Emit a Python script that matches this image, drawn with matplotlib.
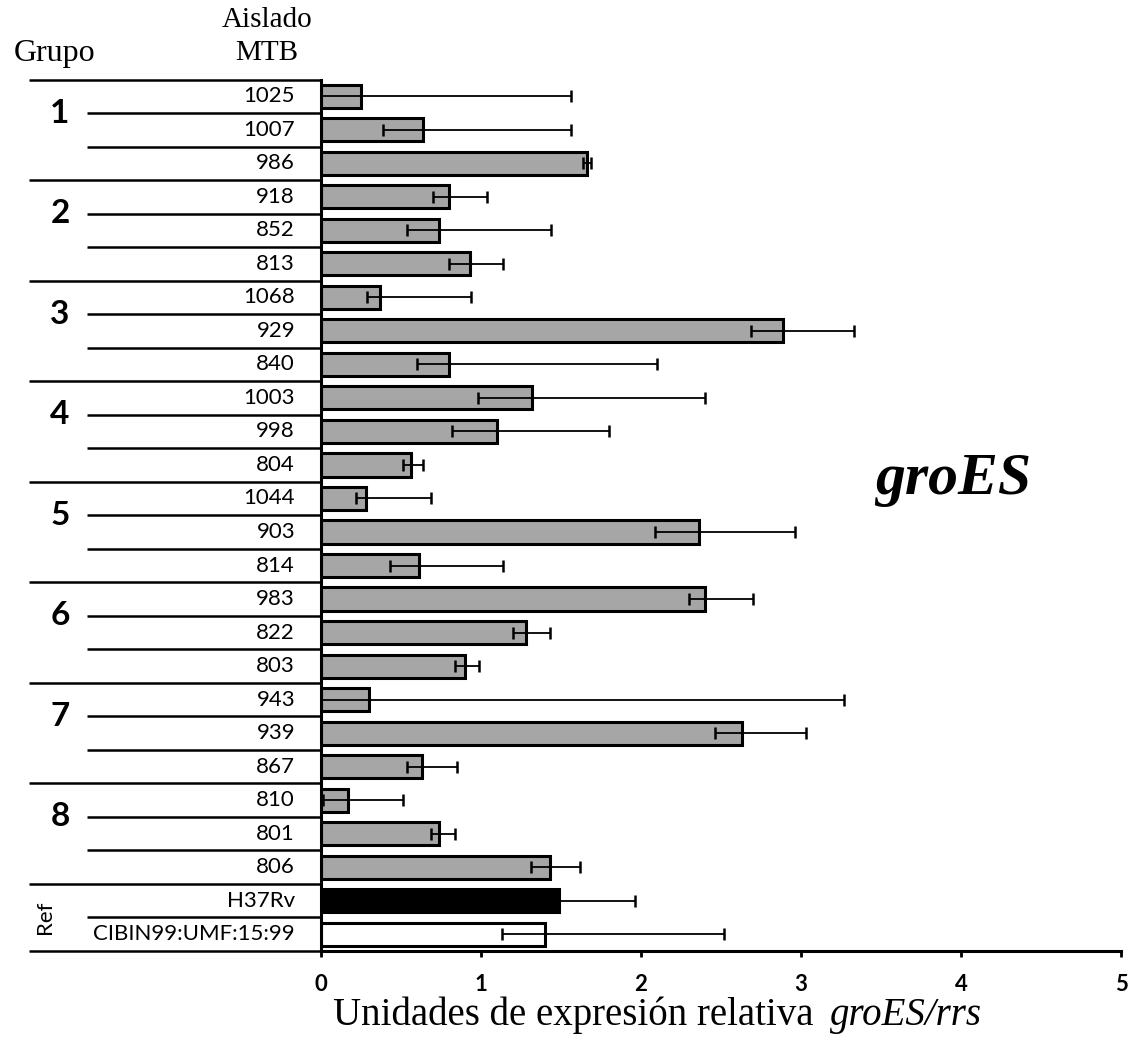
import matplotlib
matplotlib.use("Agg")
import matplotlib.pyplot as plt
import numpy as np

# data
groups = ["1", "2", "3", "4", "5", "6", "7", "8", "Ref"]
isolates = ["1025", "1007", "986", "918", "852", "813", "1068", "929", "840",
            "1003", "998", "804", "1044", "903", "814", "983", "822", "803",
            "943", "939", "867", "810", "801", "806", "H37Rv", "CIBIN99:UMF:15:99"]
values = [0.25, 0.64, 1.66, 0.80, 0.74, 0.93, 0.37, 2.89, 0.80,
          1.32, 1.10, 0.56, 0.28, 2.36, 0.61, 2.40, 1.28, 0.90,
          0.30, 2.63, 0.63, 0.17, 0.74, 1.43, 1.49, 1.40]
err_low = [-1.06, 0.39, 1.64, 0.70, 0.54, 0.80, 0.29, 2.69, 0.60,
           0.98, 0.82, 0.51, 0.22, 2.09, 0.43, 2.30, 1.20, 0.84,
           -2.67, 2.46, 0.54, 0.01, 0.69, 1.31, 1.02, 1.13]
err_high = [1.56, 1.56, 1.69, 1.04, 1.44, 1.14, 0.94, 3.33, 2.10,
            2.40, 1.80, 0.64, 0.69, 2.96, 1.14, 2.70, 1.43, 0.99,
            3.27, 3.03, 0.85, 0.51, 0.84, 1.62, 1.96, 2.52]
xticks = [0, 1, 2, 3, 4, 5]

W, H = 1139, 1038
top_px, bot_px = 79.5, 951
left_px, right_px = 321, 1121

fig = plt.figure(figsize=(W / 100, H / 100), dpi=100)

ax = fig.add_axes([left_px / W, 1 - bot_px / H, (right_px - left_px) / W, (bot_px - top_px) / H])
tab = fig.add_axes([0, 1 - bot_px / H, left_px / W, (bot_px - top_px) / H])

n = len(isolates)
y = np.arange(n) + 0.5
vals = np.array(values)
lo = vals - np.array(err_low)
hi = np.array(err_high) - vals

colors = ["#a6a6a6"] * n
colors[isolates.index("H37Rv")] = "black"
colors[isolates.index("CIBIN99:UMF:15:99")] = "white"

ax.barh(y, vals, height=0.69, color=colors, edgecolor="black", linewidth=2.2, zorder=2)
ax.errorbar(vals, y, xerr=[lo, hi], fmt="none", ecolor="black",
            elinewidth=1.3, capsize=4.5, capthick=1.8, zorder=3)

ax.set_xlim(0, 5)
ax.set_ylim(n, 0)
ax.set_xticks(xticks)
ax.set_xticklabels([str(t) for t in xticks], family="Lato", fontweight="bold", fontsize=16)
ax.set_yticks([])
ax.tick_params(axis="x", direction="out", length=4.5, width=2, pad=12)
for s in ["top", "right"]:
    ax.spines[s].set_visible(False)
ax.spines["left"].set_linewidth(2.2)
ax.spines["bottom"].set_linewidth(2.2)

# table on the left
tab.set_xlim(0, left_px)
tab.set_ylim(n, 0)
tab.axis("off")
group_edges = [0, 3, 6, 9, 12, 15, 18, 21, 24, 26]
for k in range(n + 1):
    x0 = 29 if k in group_edges else 87
    tab.plot([x0, left_px], [k, k], color="black", lw=1.8, clip_on=False,
             solid_capstyle="butt")

for yi, name in zip(y, isolates):
    tab.text(295, yi, name, ha="right", va="center", family="Lato", fontsize=16)

for gi, g in enumerate(groups):
    if g == "Ref":
        tab.text(45, group_edges[gi] + 1, g, rotation=90, ha="center", va="center",
                 family="Lato", fontsize=16)
    else:
        tab.text(60, group_edges[gi] + 1, g, ha="center", va="center",
                 family="Lato", fontweight="bold", fontsize=24)

serif = "Liberation Serif"
fig.text(55 / W, 1 - 53 / H, "Grupo", ha="center", va="center", family=serif, fontsize=23)
fig.text(267 / W, 1 - 20 / H, "Aislado", ha="center", va="center", family=serif, fontsize=21)
fig.text(267 / W, 1 - 53 / H, "MTB", ha="center", va="center", family=serif, fontsize=21)

fig.text(953 / W, 1 - 480 / H, "groES", ha="center", va="center", family=serif,
         fontweight="bold", style="italic", fontsize=43)

fig.text(333 / W, 1 - 1015 / H, "Unidades de expresión relativa", ha="left", va="center",
         family=serif, fontsize=28)
fig.text(982 / W, 1 - 1015 / H, "groES/rrs", ha="right", va="center",
         family=serif, style="italic", fontsize=28)

fig.savefig("out.png", dpi=100)
